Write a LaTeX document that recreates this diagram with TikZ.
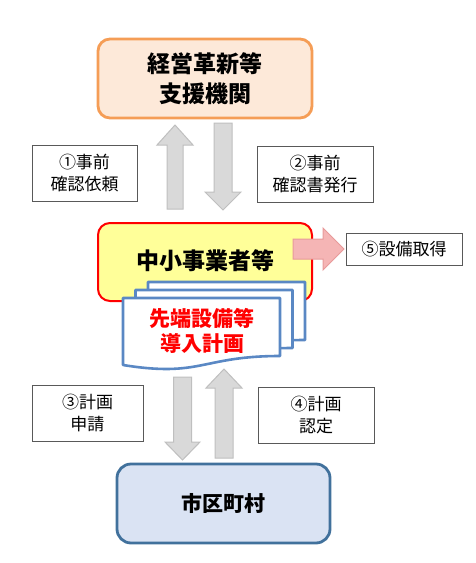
\documentclass[tikz,border=0pt]{standalone}
\usepackage{fontspec}
\setmainfont{Noto Sans CJK JP}
\newfontfamily\cjk{Noto Sans CJK JP}
\definecolor{orangeB}{HTML}{F59D56}
\definecolor{peach}{HTML}{FDE9D9}
\definecolor{yel}{HTML}{FFFF99}
\definecolor{blueB}{HTML}{41719C}
\definecolor{blueF}{HTML}{DAE3F3}
\definecolor{docB}{HTML}{5A88C4}
\definecolor{grayF}{HTML}{D9D9D9}
\definecolor{grayB}{HTML}{BFBFBF}
\definecolor{pinkF}{HTML}{F5B5B5}
\definecolor{pinkB}{HTML}{E89A9A}
\definecolor{labB}{HTML}{595959}
\tikzset{
  mainbox/.style={rounded corners=12pt, minimum width=214pt, minimum height=79pt, align=center, inner sep=0pt},
  labelbox/.style={draw=labB, line width=0.9pt, fill=white, align=center, inner sep=0pt},
  grayarrow/.style={fill=grayF, draw=grayB, line width=1pt},
  docshape/.style={draw=docB, line width=2.6pt, fill=white, line join=round},
}
\begin{document}
\begin{tikzpicture}[x=1pt,y=-1pt]
\useasboundingbox (0,0) rectangle (475,563);
% top box
\node[mainbox, draw=orangeB, line width=2.8pt, fill=peach, font=\fontsize{23}{30}\selectfont\bfseries] (top) at (205,78.5) {経営革新等\\支援機関};
% gray arrows top
\draw[grayarrow] (175,125) -- (193,145) -- (183,145) -- (183,209) -- (167,209) -- (167,145) -- (157,145) -- cycle;
\draw[grayarrow] (214,123) -- (232,123) -- (232,192) -- (241,192) -- (223,210) -- (205,192) -- (214,192) -- cycle;
% labels 1,2
\node[labelbox, minimum width=105pt, minimum height=56pt, font=\fontsize{17}{22}\selectfont] (l1) at (84.5,173) {①事前\\確認依頼};
\node[labelbox, minimum width=116pt, minimum height=56pt, font=\fontsize{17}{22}\selectfont] (l2) at (315,174) {②事前\\確認書発行};
% middle box
\node[mainbox, draw=red, line width=2pt, fill=yel, minimum height=78pt] (mid) at (205,262) {};
\node[font=\fontsize{23}{28}\selectfont\bfseries] (midt) at (205,261) {中小事業者等};
% pink arrow
\draw[fill=pinkF, draw=pinkB, line width=1pt] (293,239) -- (323,239) -- (323,228) -- (344,249) -- (323,270) -- (323,259) -- (293,259) -- cycle;
\node[labelbox, minimum width=116pt, minimum height=32pt, font=\fontsize{17}{22}\selectfont] (l5) at (404,249) {⑤設備取得};
% documents
\foreach \dx/\dy in {25/-16, 12.5/-8} {
  \draw[docshape] (123+\dx,298+\dy) -- (280+\dx,298+\dy) -- (280+\dx,356+\dy)
     .. controls (201.5+\dx,356+\dy) and (201.5+\dx,377.7+\dy) .. (123+\dx,365+\dy) -- cycle;
}
\draw[docshape] (123,298) -- (280,298) -- (280,356)
     .. controls (201.5,356) and (201.5,377.7) .. (123,365) -- cycle;
\node[font=\fontsize{21}{25}\selectfont\bfseries, text=red, align=center] (doc) at (202,330.5) {先端設備等\\導入計画};
% gray arrows bottom
\draw[grayarrow] (173.5,377) -- (191.5,377) -- (191.5,442) -- (200,442) -- (182.5,460) -- (165,442) -- (173.5,442) -- cycle;
\draw[grayarrow] (224,369) -- (242,388) -- (233,388) -- (233,458) -- (215,458) -- (215,388) -- (206,388) -- cycle;
% labels 3,4
\node[labelbox, minimum width=111pt, minimum height=56pt, font=\fontsize{17}{22}\selectfont] (l3) at (87.5,413) {③計画\\申請};
\node[labelbox, minimum width=116pt, minimum height=56pt, font=\fontsize{17}{22}\selectfont] (l4) at (316,415) {④計画\\認定};
% bottom box
\node[mainbox, rounded corners=14pt, draw=blueB, line width=2.8pt, fill=blueF, minimum width=213pt, font=\fontsize{21}{26}\selectfont\bfseries] (bot) at (223.5,503.5) {市区町村};
\end{tikzpicture}
\end{document}
